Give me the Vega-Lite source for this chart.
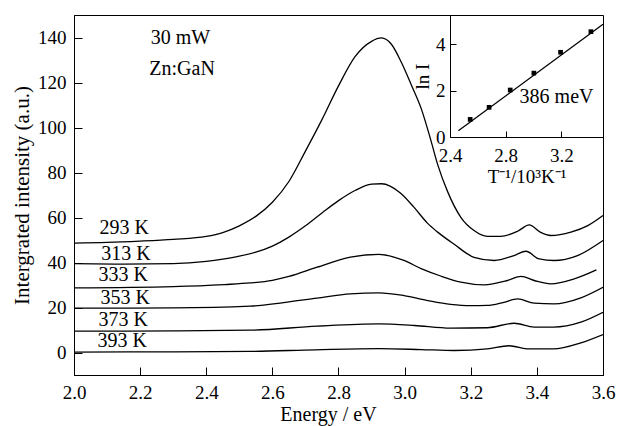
{
  "$schema": "https://vega.github.io/schema/vega-lite/v6.json",
  "width": 529,
  "height": 360,
  "autosize": {"type": "none"},
  "padding": {"left": 74, "top": 15, "right": 16, "bottom": 51},
  "background": "white",
  "config": {
    "view": {"stroke": "black", "strokeWidth": 1},
    "font": "Liberation Serif",
    "axis": {
      "grid": false,
      "domainColor": "black",
      "tickColor": "black",
      "labelColor": "black",
      "titleColor": "black",
      "labelFont": "Liberation Serif",
      "titleFont": "Liberation Serif",
      "titleFontWeight": "normal",
      "domainWidth": 1,
      "tickWidth": 1
    },
    "text": {"font": "Liberation Serif", "color": "black"}
  },
  "datasets": {
    "spectra": [
      {"T": "293 K", "E": 2.0, "I": 48.6}, {"T": "293 K", "E": 2.1, "I": 48.9}, {"T": "293 K", "E": 2.2, "I": 49.5}, {"T": "293 K", "E": 2.3, "I": 50.3}, {"T": "293 K", "E": 2.4, "I": 51.6}, {"T": "293 K", "E": 2.45, "I": 53.3}, {"T": "293 K", "E": 2.5, "I": 56.3}, {"T": "293 K", "E": 2.55, "I": 60.5}, {"T": "293 K", "E": 2.6, "I": 66.8}, {"T": "293 K", "E": 2.65, "I": 76}, {"T": "293 K", "E": 2.7, "I": 89.5}, {"T": "293 K", "E": 2.75, "I": 103.5}, {"T": "293 K", "E": 2.8, "I": 118.5}, {"T": "293 K", "E": 2.85, "I": 131.5}, {"T": "293 K", "E": 2.9, "I": 138.3}, {"T": "293 K", "E": 2.93, "I": 139.8}, {"T": "293 K", "E": 2.96, "I": 137}, {"T": "293 K", "E": 2.99, "I": 129}, {"T": "293 K", "E": 3.02, "I": 119}, {"T": "293 K", "E": 3.05, "I": 108.5}, {"T": "293 K", "E": 3.079, "I": 94.5}, {"T": "293 K", "E": 3.1, "I": 83.5}, {"T": "293 K", "E": 3.13, "I": 71.5}, {"T": "293 K", "E": 3.17, "I": 60.1}, {"T": "293 K", "E": 3.21, "I": 54.2}, {"T": "293 K", "E": 3.25, "I": 51.6}, {"T": "293 K", "E": 3.29, "I": 51.6}, {"T": "293 K", "E": 3.342, "I": 53.9}, {"T": "293 K", "E": 3.377, "I": 56.7}, {"T": "293 K", "E": 3.41, "I": 53.5}, {"T": "293 K", "E": 3.442, "I": 52}, {"T": "293 K", "E": 3.503, "I": 53.5}, {"T": "293 K", "E": 3.554, "I": 56.4}, {"T": "293 K", "E": 3.6, "I": 60.9},
      {"T": "313 K", "E": 2.0, "I": 39.5}, {"T": "313 K", "E": 2.15, "I": 39.3}, {"T": "313 K", "E": 2.3, "I": 39.5}, {"T": "313 K", "E": 2.4, "I": 40.5}, {"T": "313 K", "E": 2.45, "I": 41.5}, {"T": "313 K", "E": 2.5, "I": 42.8}, {"T": "313 K", "E": 2.55, "I": 44.6}, {"T": "313 K", "E": 2.6, "I": 47.3}, {"T": "313 K", "E": 2.65, "I": 51.3}, {"T": "313 K", "E": 2.7, "I": 56.3}, {"T": "313 K", "E": 2.75, "I": 62}, {"T": "313 K", "E": 2.8, "I": 67.5}, {"T": "313 K", "E": 2.85, "I": 72}, {"T": "313 K", "E": 2.9, "I": 74.8}, {"T": "313 K", "E": 2.93, "I": 75}, {"T": "313 K", "E": 2.988, "I": 70.8}, {"T": "313 K", "E": 3.028, "I": 64.6}, {"T": "313 K", "E": 3.069, "I": 57.5}, {"T": "313 K", "E": 3.1, "I": 53.5}, {"T": "313 K", "E": 3.149, "I": 48.2}, {"T": "313 K", "E": 3.21, "I": 42.3}, {"T": "313 K", "E": 3.271, "I": 40.9}, {"T": "313 K", "E": 3.331, "I": 43.1}, {"T": "313 K", "E": 3.367, "I": 45}, {"T": "313 K", "E": 3.407, "I": 41.6}, {"T": "313 K", "E": 3.452, "I": 40.9}, {"T": "313 K", "E": 3.523, "I": 43.1}, {"T": "313 K", "E": 3.6, "I": 49.8},
      {"T": "333 K", "E": 2.0, "I": 28.7}, {"T": "333 K", "E": 2.3, "I": 29.3}, {"T": "333 K", "E": 2.455, "I": 30.2}, {"T": "333 K", "E": 2.533, "I": 30.9}, {"T": "333 K", "E": 2.6, "I": 32.1}, {"T": "333 K", "E": 2.65, "I": 33.8}, {"T": "333 K", "E": 2.735, "I": 37.9}, {"T": "333 K", "E": 2.836, "I": 42.4}, {"T": "333 K", "E": 2.922, "I": 43.6}, {"T": "333 K", "E": 2.998, "I": 40.9}, {"T": "333 K", "E": 3.05, "I": 37.3}, {"T": "333 K", "E": 3.109, "I": 34}, {"T": "333 K", "E": 3.17, "I": 31.3}, {"T": "333 K", "E": 3.24, "I": 30.1}, {"T": "333 K", "E": 3.311, "I": 32}, {"T": "333 K", "E": 3.352, "I": 33.8}, {"T": "333 K", "E": 3.392, "I": 32}, {"T": "333 K", "E": 3.442, "I": 30.5}, {"T": "333 K", "E": 3.513, "I": 32.7}, {"T": "333 K", "E": 3.58, "I": 36.7},
      {"T": "353 K", "E": 2.0, "I": 19.7}, {"T": "353 K", "E": 2.3, "I": 19.8}, {"T": "353 K", "E": 2.533, "I": 20.6}, {"T": "353 K", "E": 2.634, "I": 22.2}, {"T": "353 K", "E": 2.735, "I": 24.2}, {"T": "353 K", "E": 2.836, "I": 26.1}, {"T": "353 K", "E": 2.922, "I": 26.5}, {"T": "353 K", "E": 2.998, "I": 25.3}, {"T": "353 K", "E": 3.07, "I": 23.1}, {"T": "353 K", "E": 3.139, "I": 21.4}, {"T": "353 K", "E": 3.2, "I": 20.8}, {"T": "353 K", "E": 3.25, "I": 20.9}, {"T": "353 K", "E": 3.3, "I": 22.3}, {"T": "353 K", "E": 3.342, "I": 23.8}, {"T": "353 K", "E": 3.392, "I": 21.9}, {"T": "353 K", "E": 3.452, "I": 21.6}, {"T": "353 K", "E": 3.533, "I": 24.3}, {"T": "353 K", "E": 3.6, "I": 29},
      {"T": "373 K", "E": 2.0, "I": 9.5}, {"T": "373 K", "E": 2.3, "I": 9.6}, {"T": "373 K", "E": 2.533, "I": 9.9}, {"T": "373 K", "E": 2.735, "I": 11.7}, {"T": "373 K", "E": 2.922, "I": 12.7}, {"T": "373 K", "E": 3.03, "I": 12}, {"T": "373 K", "E": 3.139, "I": 10.8}, {"T": "373 K", "E": 3.25, "I": 11}, {"T": "373 K", "E": 3.331, "I": 13}, {"T": "373 K", "E": 3.392, "I": 11.3}, {"T": "373 K", "E": 3.45, "I": 11.3}, {"T": "373 K", "E": 3.533, "I": 13.5}, {"T": "373 K", "E": 3.6, "I": 17.9},
      {"T": "393 K", "E": 2.0, "I": 0.2}, {"T": "393 K", "E": 2.3, "I": 0.3}, {"T": "393 K", "E": 2.533, "I": 0.5}, {"T": "393 K", "E": 2.73, "I": 1.2}, {"T": "393 K", "E": 2.922, "I": 1.7}, {"T": "393 K", "E": 3.05, "I": 1.3}, {"T": "393 K", "E": 3.15, "I": 0.9}, {"T": "393 K", "E": 3.25, "I": 1.6}, {"T": "393 K", "E": 3.316, "I": 3.0}, {"T": "393 K", "E": 3.376, "I": 1.6}, {"T": "393 K", "E": 3.45, "I": 1.6}, {"T": "393 K", "E": 3.533, "I": 4.3}, {"T": "393 K", "E": 3.6, "I": 8}
    ],
    "labels": [
      {"E": 2.152, "I": 52.7, "text": "293 K"},
      {"E": 2.157, "I": 41.3, "text": "313 K"},
      {"E": 2.149, "I": 31.7, "text": "333 K"},
      {"E": 2.155, "I": 21.6, "text": "353 K"},
      {"E": 2.149, "I": 12.0, "text": "373 K"},
      {"E": 2.146, "I": 2.4, "text": "393 K"},
      {"E": 2.322, "I": 137.2, "text": "30 mW"},
      {"E": 2.327, "I": 123.4, "text": "Zn:GaN"}
    ],
    "arrhenius": [
      {"invT": 2.545, "lnI": 0.76},
      {"invT": 2.681, "lnI": 1.28},
      {"invT": 2.833, "lnI": 2.03},
      {"invT": 3.003, "lnI": 2.76},
      {"invT": 3.195, "lnI": 3.66},
      {"invT": 3.413, "lnI": 4.55}
    ],
    "fit": [
      {"invT": 2.46, "lnI": 0.27},
      {"invT": 3.5, "lnI": 4.87}
    ],
    "insetText": [
      {"invT": 3.166, "lnI": 1.48, "text": "386 meV"}
    ]
  },
  "layer": [
    {
      "layer": [
        {
          "data": {"name": "spectra"},
          "mark": {"type": "line", "color": "black", "strokeWidth": 1.3, "interpolate": "monotone", "clip": true},
          "encoding": {
            "x": {"field": "E", "type": "quantitative",
              "scale": {"domain": [2.0, 3.6], "nice": false, "zero": false},
              "axis": {"title": "Energy / eV", "values": [2.0, 2.2, 2.4, 2.6, 2.8, 3.0, 3.2, 3.4, 3.6], "format": ".1f",
                "tickSize": -8, "labelPadding": 16, "labelFontSize": 19, "titleFontSize": 20, "titlePadding": 2, "titleX": 254, "labelFlush": false}},
            "y": {"field": "I", "type": "quantitative",
              "scale": {"domain": [-10, 150], "nice": false, "zero": false},
              "axis": {"title": "Intergrated intensity (a.u.)", "values": [0, 20, 40, 60, 80, 100, 120, 140], "format": "d",
                "tickSize": -8, "labelPadding": 16, "labelFontSize": 19, "titleFontSize": 21, "titlePadding": 5}},
            "detail": {"field": "T", "type": "nominal"}
          }
        },
        {
          "data": {"name": "labels"},
          "mark": {"type": "text", "fontSize": 20, "align": "center", "baseline": "alphabetic"},
          "encoding": {
            "x": {"field": "E", "type": "quantitative"},
            "y": {"field": "I", "type": "quantitative"},
            "text": {"field": "text"}
          }
        }
      ]
    },
    {
      "layer": [
        {
          "data": {"name": "fit"},
          "mark": {"type": "line", "color": "black", "strokeWidth": 1.3},
          "encoding": {
            "x": {"field": "invT", "type": "quantitative",
              "scale": {"domain": [2.4, 3.5], "range": [376, 529], "nice": false, "zero": false},
              "axis": {"orient": "bottom", "offset": -238, "title": "T⁻¹/10³K⁻¹", "values": [2.4, 2.8, 3.2], "format": ".1f",
                "tickSize": -6, "labelPadding": 15, "labelFontSize": 19, "titleFontSize": 19, "titlePadding": 2, "labelFlush": false}},
            "y": {"field": "lnI", "type": "quantitative",
              "scale": {"domain": [0, 5.27], "range": [122, 0], "nice": false, "zero": false},
              "axis": {"orient": "left", "offset": -376, "title": "ln I", "values": [0, 2, 4], "format": "d",
                "tickSize": -6, "labelPadding": 11, "labelFontSize": 19, "titleFontSize": 19, "titlePadding": 3}}
          }
        },
        {
          "data": {"name": "arrhenius"},
          "mark": {"type": "point", "shape": "square", "filled": true, "color": "black", "size": 22, "opacity": 1},
          "encoding": {
            "x": {"field": "invT", "type": "quantitative"},
            "y": {"field": "lnI", "type": "quantitative"}
          }
        },
        {
          "data": {"name": "insetText"},
          "mark": {"type": "text", "fontSize": 20, "align": "center", "baseline": "alphabetic"},
          "encoding": {
            "x": {"field": "invT", "type": "quantitative"},
            "y": {"field": "lnI", "type": "quantitative"},
            "text": {"field": "text"}
          }
        }
      ]
    }
  ],
  "resolve": {"scale": {"x": "independent", "y": "independent"}, "axis": {"x": "independent", "y": "independent"}}
}
